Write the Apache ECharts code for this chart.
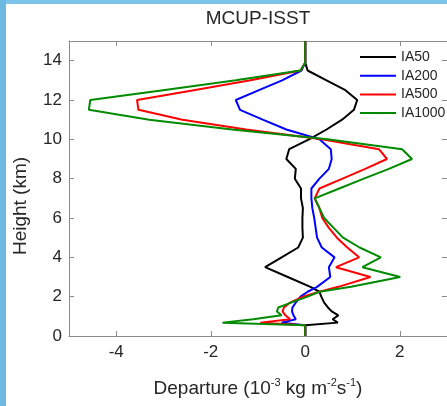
<!DOCTYPE html>
<html>
<head>
<meta charset="utf-8">
<script src="https://cdn.jsdelivr.net/npm/echarts@6/dist/echarts.min.js"></script>
<style>
  html, body { margin: 0; padding: 0; background: #ffffff; }
  #chart { width: 447px; height: 406px; }
</style>
</head>
<body>
<div id="chart"></div>
<script>
// Model levels (km)
const heights = [0, 0.55, 0.68, 0.85, 1.05, 1.25, 1.45, 1.7, 2.0, 2.25, 2.5, 3.0, 3.5, 4.0, 4.5, 5.0, 5.5, 6.0, 6.5, 7.0, 7.5, 8.0, 8.5, 9.0, 9.5, 10.0, 10.5, 11.0, 11.5, 12.0, 12.5, 13.0, 13.5, 13.9, 14.5, 15.0];

// Departure profiles (10^-3 kg m^-2 s^-1), one value per level
const ia50   = [0, 0.0, 0.69, 0.58, 0.70, 0.56, 0.48, 0.40, 0.34, 0.30, 0.11, -0.37, -0.85, -0.50, -0.15, -0.05, -0.06, -0.06, -0.05, -0.09, -0.09, -0.22, -0.20, -0.40, -0.34, 0.08, 0.45, 0.78, 1.03, 1.10, 0.85, 0.45, 0.05, 0, 0, 0];
const ia200  = [0, 0, -0.50, -0.20, -0.25, -0.28, -0.27, -0.20, -0.10, 0.05, 0.25, 0.53, 0.50, 0.62, 0.35, 0.25, 0.22, 0.19, 0.15, 0.13, 0.13, 0.30, 0.50, 0.56, 0.54, 0.30, -0.40, -0.90, -1.38, -1.47, -0.98, -0.49, -0.08, 0, 0, 0];
const ia500  = [0, 0, -0.95, -0.32, -0.42, -0.48, -0.45, -0.32, -0.05, 0.30, 0.70, 1.38, 0.65, 1.14, 0.89, 0.67, 0.50, 0.36, 0.30, 0.20, 0.30, 0.79, 1.27, 1.73, 1.56, 0.35, -1.25, -2.60, -3.53, -3.56, -2.36, -1.16, -0.10, 0, 0, 0];
const ia1000 = [0, 0, -1.75, -1.10, -0.50, -0.60, -0.57, -0.30, 0.05, 0.30, 0.97, 2.01, 1.21, 1.60, 1.15, 0.80, 0.60, 0.40, 0.30, 0.20, 0.72, 1.24, 1.77, 2.26, 2.05, 0.47, -1.55, -3.30, -4.58, -4.55, -3.01, -1.47, -0.10, 0, 0, 0];

const seriesNames = ['IA50', 'IA200', 'IA500', 'IA1000'];
const seriesColors = ['#000000', '#0000ff', '#ff0000', '#008a00'];
const xTicks = [-4, -2, 0, 2];
const yTicks = [0, 2, 4, 6, 8, 10, 12, 14];

const FONT = '"Liberation Sans", Arial, Helvetica, sans-serif';
const AXIS_GREY = '#8a8a8a';
const TEXT_DARK = '#262626';

const profiles = [ia50, ia200, ia500, ia1000];

const chart = echarts.init(document.getElementById('chart'), null, { renderer: 'canvas' });

const gridBox = { left: 69, top: 41, width: 379.5, height: 304 };

function boxAxisX(position, showLabels) {
  return {
    type: 'value', position: position, min: -5, max: 3,
    axisLine: { show: true, onZero: false, lineStyle: { color: AXIS_GREY, width: 1 } },
    axisTick: { show: true, inside: true, length: 5, customValues: xTicks, lineStyle: { color: AXIS_GREY } },
    axisLabel: { show: showLabels, customValues: xTicks, margin: 8, color: TEXT_DARK, fontSize: 17, fontFamily: FONT },
    splitLine: { show: false }
  };
}
function boxAxisY(position, showLabels) {
  return {
    type: 'value', position: position, min: 0, max: 15,
    axisLine: { show: true, onZero: false, lineStyle: { color: AXIS_GREY, width: 1 } },
    axisTick: { show: true, inside: true, length: 5, customValues: yTicks, lineStyle: { color: AXIS_GREY } },
    axisLabel: { show: showLabels, customValues: yTicks, margin: 7, color: TEXT_DARK, fontSize: 17, fontFamily: FONT },
    splitLine: { show: false }
  };
}

const xBottom = boxAxisX('bottom', true);
xBottom.name = 'Departure (10{s|-3} kg m{s|-2}s{s|-1})';
xBottom.nameLocation = 'middle';
xBottom.nameGap = 41;
xBottom.nameTextStyle = {
  color: TEXT_DARK, fontSize: 19, fontFamily: FONT, lineHeight: 24,
  rich: { s: { fontSize: 11, lineHeight: 16, verticalAlign: 'top', color: TEXT_DARK, fontFamily: FONT } }
};

const option = {
  backgroundColor: '#ffffff',
  animation: false,
  grid: Object.assign({ containLabel: false }, gridBox),
  xAxis: [xBottom, boxAxisX('top', false)],
  yAxis: [boxAxisY('left', true), boxAxisY('right', false)],
  legend: {
    orient: 'vertical', left: 355, top: 45,
    icon: 'rect', itemWidth: 36, itemHeight: 2, itemGap: 4.7,
    textStyle: { color: TEXT_DARK, fontSize: 14, fontFamily: FONT, lineHeight: 14 },
    data: seriesNames
  },
  graphic: [
    { type: 'rect', shape: { x: 0, y: 0, width: 447, height: 4 }, style: { fill: '#7cc4ea' }, z: 100 },
    { type: 'rect', shape: { x: 0, y: 0, width: 6, height: 406 }, style: { fill: '#6db9e2' }, z: 100 },
    { type: 'text', x: 258, y: 19, z: 100,
      style: { text: 'MCUP-ISST', textAlign: 'center', textVerticalAlign: 'middle', font: '19px ' + FONT, fill: TEXT_DARK } },
    { type: 'text', x: 20.5, y: 206, rotation: Math.PI / 2, z: 100,
      style: { text: 'Height (km)', textAlign: 'center', textVerticalAlign: 'middle', font: '19px ' + FONT, fill: TEXT_DARK } }
  ],
  series: profiles.map(function (vals, k) {
    return {
      name: seriesNames[k], type: 'line', xAxisIndex: 0, yAxisIndex: 0,
      symbol: 'none', smooth: false, clip: true,
      lineStyle: { color: seriesColors[k], width: 2 },
      itemStyle: { color: seriesColors[k] },
      data: vals.map(function (v, i) { return [v, heights[i]]; })
    };
  })
};

chart.setOption(option);
</script>
</body>
</html>
